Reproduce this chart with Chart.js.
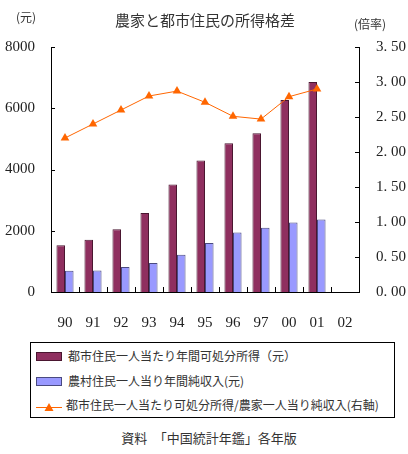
<!DOCTYPE html>
<html>
<head>
<meta charset="utf-8">
<script src="https://cdn.jsdelivr.net/npm/chart.js@4.4.1/dist/chart.umd.min.js"></script>
<style>
    body { margin: 0; background: #fff; }
    #wrap { position: relative; width: 408px; height: 454px; }
    #chart { position: absolute; left: 0; top: 0; }
    #legendBox {
        position: absolute; left: 30px; top: 342px; width: 363px; height: 74px;
        border: 1px solid #000;
        font-family: "Noto Sans CJK JP", sans-serif; font-size: 12px; color: #333;
    }
    .row { position: absolute; left: 5px; height: 16px; line-height: 16px; white-space: nowrap; }
    .sw { display: inline-block; width: 24px; height: 7px; vertical-align: middle; margin-right: 6px; position: relative; top: -1px; }
    .lineSw { display: inline-block; width: 26px; height: 12px; vertical-align: middle; margin-right: 4px; position: relative; }
    #caption {
        position: absolute; left: 0; width: 418px; top: 428px; text-align: center;
        font-family: "Noto Sans CJK JP", sans-serif; font-size: 13px; color: #333;
    }
</style>
</head>
<body>
<div id="wrap">
    <canvas id="chart" width="408" height="330"></canvas>
    <div id="legendBox">
        <div class="row" style="top:5px"><span class="sw" style="background:#8f2f5f;border:1px solid #4a1630"></span>都市住民一人当たり年間可処分所得（元）</div>
        <div class="row" style="top:30px"><span class="sw" style="background:#9999ff;border:1px solid #4a4a80"></span>農村住民一人当り年間純収入(元)</div>
        <div class="row" style="top:54px"><canvas class="lineSw" id="lineSw" width="26" height="12"></canvas>都市住民一人当たり可処分所得/農家一人当り純収入(右軸)</div>
    </div>
    <div id="caption">資料　「中国統計年鑑」各年版</div>
</div>
<script>
const years = ['90', '91', '92', '93', '94', '95', '96', '97', '00', '01', '02'];
const urbanIncome = [1530, 1710, 2050, 2580, 3510, 4290, 4860, 5180, 6270, 6860, null];
const ruralIncome = [690, 700, 820, 950, 1220, 1600, 1940, 2100, 2270, 2370, null];
const incomeRatio = [2.20, 2.40, 2.60, 2.80, 2.87, 2.71, 2.51, 2.47, 2.79, 2.90, null];

const tickFont = { family: '"Liberation Serif", serif', size: 15 };

// legend line swatch
(function() {
    const c = document.getElementById('lineSw').getContext('2d');
    c.strokeStyle = '#ff6600';
    c.lineWidth = 1;
    c.beginPath(); c.moveTo(0, 6.5); c.lineTo(26, 6.5); c.stroke();
    c.fillStyle = '#ff6600';
    c.beginPath(); c.moveTo(13, 2); c.lineTo(17.5, 10); c.lineTo(8.5, 10); c.closePath(); c.fill();
})();

// title, unit labels and inward tick marks
const extras = {
    id: 'extras',
    afterDraw(chart) {
        const ctx = chart.ctx;
        const area = chart.chartArea;
        ctx.save();
        ctx.fillStyle = '#333';
        ctx.textBaseline = 'middle';
        ctx.font = '15px "Noto Sans CJK JP", sans-serif';
        ctx.textAlign = 'center';
        ctx.fillText('農家と都市住民の所得格差', 205, 20);
        ctx.font = '12px "Noto Sans CJK JP", sans-serif';
        ctx.textAlign = 'left';
        ctx.fillText('(元)', 16, 17);
        ctx.fillText('(倍率)', 354, 24);

        ctx.strokeStyle = '#000';
        ctx.lineWidth = 1;
        ctx.beginPath();
        const n = years.length;
        const w = (area.right - area.left) / n;
        for (let i = 1; i < n; i++) {
            const x = Math.round(area.left + i * w) + 0.5;
            ctx.moveTo(x, area.bottom);
            ctx.lineTo(x, area.bottom - 5);
        }
        const y = chart.scales.y;
        y.ticks.forEach(t => {
            const py = Math.round(y.getPixelForValue(t.value)) + 0.5;
            ctx.moveTo(area.left, py);
            ctx.lineTo(area.left + 4, py);
        });
        const y1 = chart.scales.y1;
        y1.ticks.forEach(t => {
            const py = Math.round(y1.getPixelForValue(t.value)) + 0.5;
            ctx.moveTo(area.right, py);
            ctx.lineTo(area.right - 4, py);
        });
        ctx.stroke();
        ctx.restore();
    }
};

new Chart(document.getElementById('chart'), {
    data: {
        labels: years,
        datasets: [
            {
                type: 'line',
                label: '都市住民一人当たり可処分所得/農家一人当り純収入(右軸)',
                data: incomeRatio,
                yAxisID: 'y1',
                borderColor: '#ff6600',
                backgroundColor: '#ff6600',
                borderWidth: 1,
                pointStyle: 'triangle',
                pointRadius: 5,
                pointBorderWidth: 0,
                order: 0
            },
            {
                type: 'bar',
                label: '都市住民一人当たり年間可処分所得（元）',
                data: urbanIncome,
                yAxisID: 'y',
                backgroundColor: '#8f2f5f',
                borderColor: '#4a1630',
                borderWidth: 1,
                barPercentage: 1.0,
                categoryPercentage: 0.61,
                order: 1
            },
            {
                type: 'bar',
                label: '農村住民一人当り年間純収入(元)',
                data: ruralIncome,
                yAxisID: 'y',
                backgroundColor: '#9999ff',
                borderColor: '#4a4a80',
                borderWidth: 1,
                barPercentage: 1.0,
                categoryPercentage: 0.61,
                order: 1
            }
        ]
    },
    options: {
        responsive: false,
        animation: false,
        layout: { padding: { top: 47, left: 0, right: 0, bottom: 0 } },
        plugins: {
            legend: { display: false },
            tooltip: { enabled: false }
        },
        scales: {
            x: {
                grid: { display: false },
                border: { display: true, color: '#000' },
                ticks: { font: tickFont, color: '#222', padding: 14 },
                afterFit(scale) { scale.height = 38; }
            },
            y: {
                position: 'left',
                min: 0,
                max: 8000,
                grid: { display: false },
                border: { display: true, color: '#000' },
                ticks: {
                    stepSize: 2000, font: tickFont, color: '#222', padding: 8,
                    callback: v => String(v)
                },
                afterFit(scale) { scale.width = 51; }
            },
            y1: {
                position: 'right',
                min: 0,
                max: 3.5,
                grid: { display: false },
                border: { display: true, color: '#000' },
                ticks: {
                    stepSize: 0.5, font: tickFont, color: '#222', padding: 9,
                    callback: v => v.toFixed(2).replace('.', '. ')
                },
                afterFit(scale) { scale.width = 49; }
            }
        }
    },
    plugins: [extras]
});
</script>
</body>
</html>
